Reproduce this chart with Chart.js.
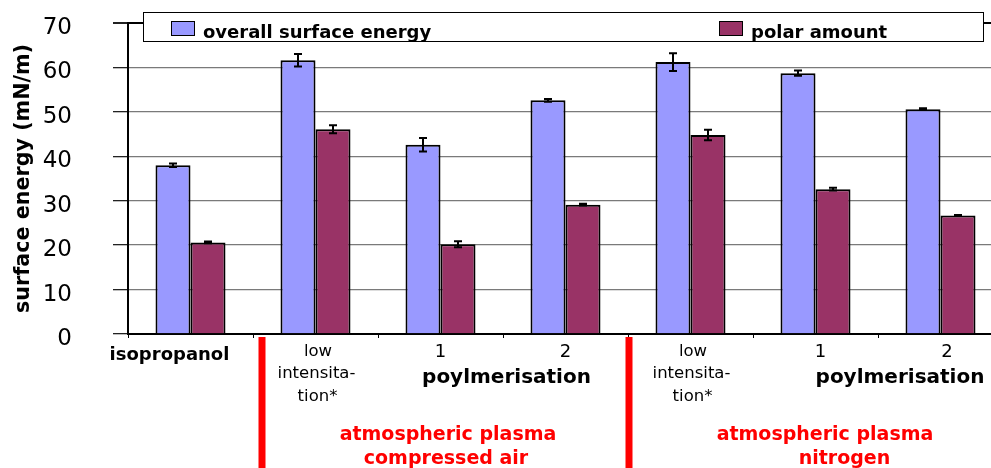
<!DOCTYPE html>
<html><head><meta charset="utf-8">
<script src="https://cdn.jsdelivr.net/npm/chart.js@4.4.0/dist/chart.umd.min.js"></script>
<style>html,body{margin:0;padding:0;overflow:hidden;background:#fff;width:991px;height:468px}
#wrap{position:relative;width:1010px;height:468px}</style></head>
<body><div id="wrap"><canvas id="c" width="1010" height="468"></canvas></div>
<script>
const categories = ['isopropanol','air low intensitation','air polymerisation 1','air polymerisation 2','nitrogen low intensitation','nitrogen polymerisation 1','nitrogen polymerisation 2'];
const overallSurfaceEnergy = [38.0, 61.6, 42.6, 52.6, 61.2, 58.7, 50.6];
const overallError = [0.4, 1.4, 1.5, 0.3, 2.0, 0.6, 0.2];
const polarAmount = [20.6, 46.1, 20.2, 29.1, 44.8, 32.6, 26.7];
const polarError = [0.2, 0.9, 0.7, 0.2, 1.2, 0.3, 0.1];
const yTicks = [0,10,20,30,40,50,60,70];
const seriesNames = ['overall surface energy','polar amount'];
const seriesColors = ['#9999FF','#993366'];
const yTitle = 'surface energy (mN/m)';

const FONT = "'DejaVu Sans'";
const xLabelSpecs = [
  {text:'isopropanol', cat:0, dx:-21, y:360, font:'bold 18px '+FONT, color:'#000'},
  {text:'low', cat:1, dx:2.5, y:356, font:'16.5px '+FONT, color:'#000'},
  {text:'intensita-', cat:1, dx:1, y:378, font:'16.5px '+FONT, color:'#000'},
  {text:'tion*', cat:1, dx:2, y:401, font:'16.5px '+FONT, color:'#000'},
  {text:'1', cat:2, dx:0, y:357, font:'18px '+FONT, color:'#000'},
  {text:'2', cat:3, dx:0, y:357, font:'18px '+FONT, color:'#000'},
  {text:'poylmerisation', cat:2.5, dx:3.5, y:383, font:'bold 20px '+FONT, color:'#000'},
  {text:'atmospheric plasma', cat:2, dx:7.5, y:440, font:'bold 19px '+FONT, color:'#FF0000'},
  {text:'compressed air', cat:2, dx:5.5, y:464, font:'bold 19px '+FONT, color:'#FF0000'},
  {text:'low', cat:4, dx:2.5, y:356, font:'16.5px '+FONT, color:'#000'},
  {text:'intensita-', cat:4, dx:1, y:378, font:'16.5px '+FONT, color:'#000'},
  {text:'tion*', cat:4, dx:2, y:401, font:'16.5px '+FONT, color:'#000'},
  {text:'1', cat:5, dx:5, y:357, font:'18px '+FONT, color:'#000'},
  {text:'2', cat:6, dx:6.5, y:357, font:'18px '+FONT, color:'#000'},
  {text:'poylmerisation', cat:5.5, dx:22, y:383, font:'bold 20px '+FONT, color:'#000'},
  {text:'atmospheric plasma', cat:5, dx:9.5, y:440, font:'bold 19px '+FONT, color:'#FF0000'},
  {text:'nitrogen', cat:5, dx:29, y:464, font:'bold 19px '+FONT, color:'#FF0000'}
];
const separators = [{at:0.5, dx:9},{at:3.5, dx:1}];

const errorBarPlugin = {
  id:'errorBars',
  afterDatasetsDraw(chart){
    const ctx=chart.ctx, y=chart.scales.y;
    const errs=[overallError, polarError];
    chart.data.datasets.forEach((ds,di)=>{
      const meta=chart.getDatasetMeta(di);
      meta.data.forEach((bar,i)=>{
        const v=ds.data[i], e=errs[di][i];
        const top=y.getPixelForValue(v+e), bot=y.getPixelForValue(v-e), x=bar.x;
        ctx.save(); ctx.strokeStyle='#000'; ctx.lineWidth=2;
        ctx.beginPath(); ctx.moveTo(x,top); ctx.lineTo(x,bot);
        ctx.moveTo(x-4,top); ctx.lineTo(x+4,top); ctx.moveTo(x-4,bot); ctx.lineTo(x+4,bot);
        ctx.stroke(); ctx.restore();
      });
    });
  }
};

const legendPlugin = {
  id:'boxLegend',
  afterDraw(chart){
    const ctx=chart.ctx;
    const bx=143, by=12, bw=840, bh=29;
    ctx.save();
    ctx.fillStyle='#fff'; ctx.fillRect(bx,by,bw,bh);
    ctx.strokeStyle='#000'; ctx.lineWidth=1; ctx.strokeRect(bx+0.5,by+0.5,bw,bh);
    ctx.beginPath(); ctx.rect(bx+1,by+1,bw-1,bh-1); ctx.clip();
    const items=[{x:171},{x:719}];
    items.forEach((it,i)=>{
      ctx.fillStyle=seriesColors[i]; ctx.fillRect(it.x,21,23,14);
      ctx.strokeStyle='#000'; ctx.lineWidth=1; ctx.strokeRect(it.x+0.5,21.5,23,14);
      ctx.fillStyle='#000'; ctx.font='bold 18px '+FONT; ctx.textBaseline='alphabetic'; ctx.textAlign='left';
      ctx.fillText(seriesNames[i], it.x+32, 37.5);
    });
    ctx.restore();
  }
};

const xLabelPlugin = {
  id:'xLabels',
  afterDraw(chart){
    const ctx=chart.ctx, x=chart.scales.x;
    ctx.save();
    separators.forEach(s=>{
      ctx.fillStyle='#FF0000';
      ctx.fillRect(x.getPixelForValue(s.at)+s.dx-3.5, 337, 7, 131);
    });
    ctx.textAlign='center'; ctx.textBaseline='alphabetic';
    xLabelSpecs.forEach(l=>{
      ctx.font=l.font; ctx.fillStyle=l.color;
      ctx.fillText(l.text, x.getPixelForValue(l.cat)+l.dx, l.y);
    });
    ctx.restore();
  }
};

new Chart(document.getElementById('c'), {
  type:'bar',
  data:{
    labels:categories,
    datasets:[
      {label:seriesNames[0], data:overallSurfaceEnergy, backgroundColor:seriesColors[0], borderColor:'#000', borderWidth:2},
      {label:seriesNames[1], data:polarAmount, backgroundColor:seriesColors[1], borderColor:'#000', borderWidth:2}
    ]
  },
  options:{
    responsive:false, animation:false, devicePixelRatio:1,
    layout:{padding:{top:23, right:7, left:0, bottom:0}},
    datasets:{bar:{categoryPercentage:0.56, barPercentage:1}},
    plugins:{legend:{display:false}, tooltip:{enabled:false}},
    scales:{
      x:{
        offset:true,
        grid:{display:true, drawOnChartArea:false, offset:true, tickLength:4, color:'#000', lineWidth:1},
        border:{color:'#000', width:2},
        ticks:{display:false},
        afterFit(s){ s.height=134; s.paddingLeft=0; s.paddingRight=0; }
      },
      y:{
        min:0, max:70,
        afterBuildTicks(s){ s.ticks = yTicks.map(v=>({value:v})); },
        grid:{color:(c)=> c.tick && c.tick.value===70 ? '#000' : '#7a7a7a', lineWidth:(c)=> c.tick && c.tick.value===70 ? 2 : 1.3, tickLength:15, tickColor:'#222'},
        border:{color:'#000', width:2},
        ticks:{padding:41, labelOffset:5, color:'#000', font:{family:"'DejaVu Sans'", size:23, weight:'normal'}},
        title:{display:true, text:yTitle, color:'#000', font:{family:"'DejaVu Sans'", size:20.7, weight:'bold'}, padding:{top:11,bottom:0}},
        afterFit(s){ s.width=128; s.paddingTop=0; s.paddingBottom=0; }
      }
    }
  },
  plugins:[errorBarPlugin, legendPlugin, xLabelPlugin]
});
</script></body></html>
